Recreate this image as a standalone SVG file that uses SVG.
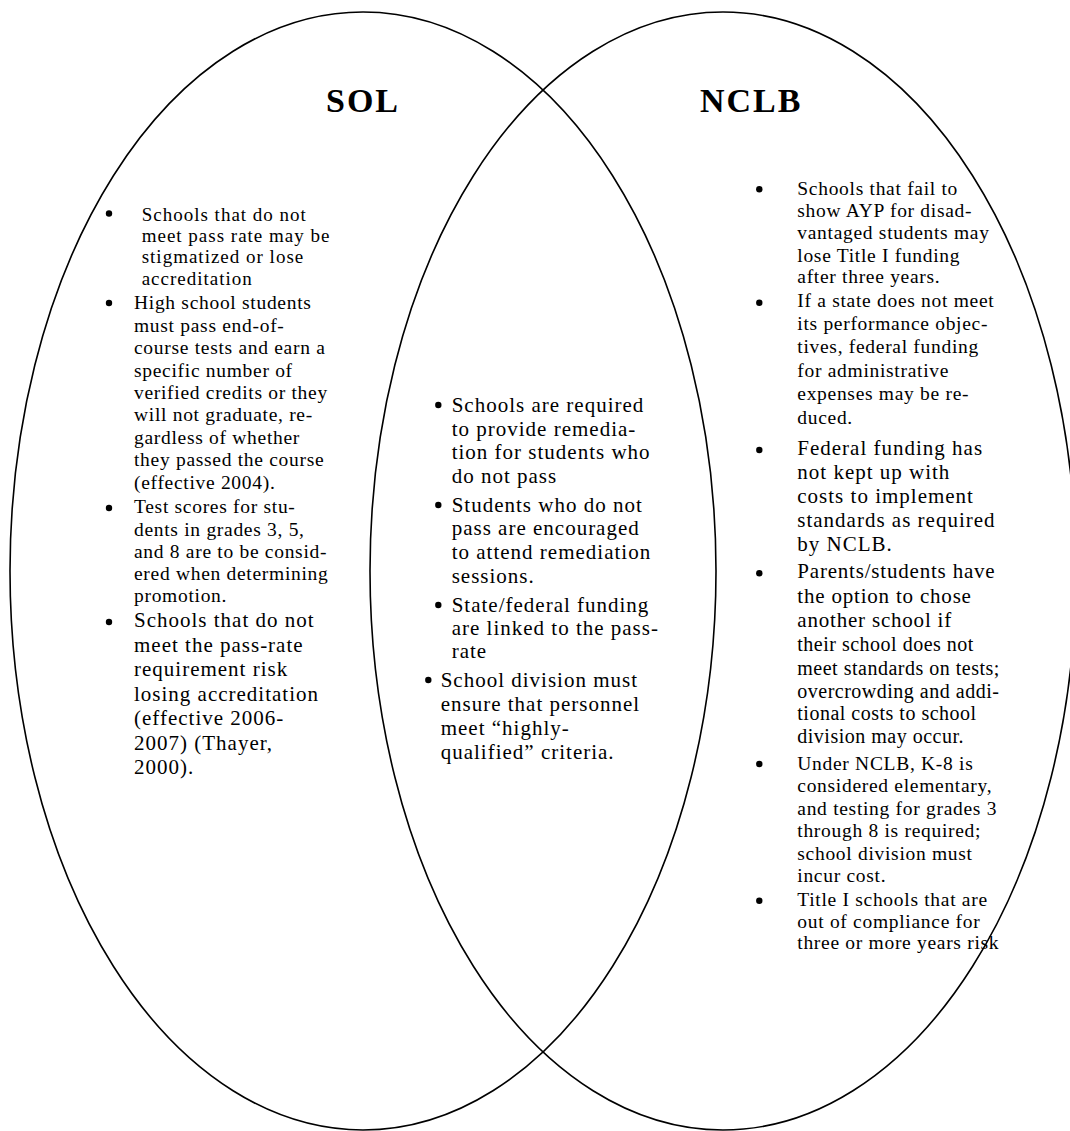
<svg xmlns="http://www.w3.org/2000/svg" width="1070" height="1131" viewBox="0 0 1070 1131">
<style>
.set{fill:none;stroke:#000;stroke-width:1.6}
.title{font-family:"Liberation Serif","Times New Roman",serif;font-weight:bold;font-size:34px;letter-spacing:2px;fill:#000}
text{font-family:"Liberation Serif","Times New Roman",serif;fill:#000}
.s19{font-size:19px;letter-spacing:1px}
.s195{font-size:19.5px;letter-spacing:0.7px}
.s20{font-size:20px;letter-spacing:0.5px}
.s21{font-size:21px;letter-spacing:1px}
.s21b{font-size:21px;letter-spacing:0.8px}
.dot{fill:#000}
</style>
<rect width="1070" height="1131" fill="#fff"/>
<g id="set-sol">
<ellipse class="set" cx="363" cy="571" rx="353" ry="559"/>
<text class="title" x="326" y="112">SOL</text>
</g>
<g id="set-nclb">
<ellipse class="set" cx="723" cy="571" rx="353" ry="559"/>
<text class="title" x="700" y="112">NCLB</text>
</g>
<g id="connectors"></g>
<g id="sol-items">
<g id="sol-1">
<circle class="dot" cx="109" cy="213.5" r="3.2"/>
<text class="s19" x="141.7" y="220.7">Schools that do not</text>
<text class="s19" x="141.7" y="241.7">meet pass rate may be</text>
<text class="s19" x="141.7" y="263.3">stigmatized or lose</text>
<text class="s19" x="141.7" y="285">accreditation</text>
</g>
<g id="sol-2">
<circle class="dot" cx="109" cy="303" r="3.2"/>
<text class="s195" x="134" y="309.3">High school students</text>
<text class="s195" x="134" y="331.7">must pass end-of-</text>
<text class="s195" x="134" y="354.1">course tests and earn a</text>
<text class="s195" x="134" y="376.5">specific number of</text>
<text class="s195" x="134" y="398.9">verified credits or they</text>
<text class="s195" x="134" y="421.3">will not graduate, re-</text>
<text class="s195" x="134" y="443.7">gardless of whether</text>
<text class="s195" x="134" y="466.1">they passed the course</text>
<text class="s195" x="134" y="488.5">(effective 2004).</text>
</g>
<g id="sol-3">
<circle class="dot" cx="109" cy="508" r="3.2"/>
<text class="s195" x="134" y="513.3">Test scores for stu-</text>
<text class="s195" x="134" y="535.5">dents in grades 3, 5,</text>
<text class="s195" x="134" y="557.7">and 8 are to be consid-</text>
<text class="s195" x="134" y="579.9">ered when determining</text>
<text class="s195" x="134" y="602.1">promotion.</text>
</g>
<g id="sol-4">
<circle class="dot" cx="109" cy="622" r="3.2"/>
<text class="s21" x="134" y="627">Schools that do not</text>
<text class="s21" x="134" y="651.5">meet the pass-rate</text>
<text class="s21" x="134" y="676">requirement risk</text>
<text class="s21" x="134" y="700.5">losing accreditation</text>
<text class="s21" x="134" y="725">(effective 2006-</text>
<text class="s21" x="134" y="749.5">2007) (Thayer,</text>
<text class="s21" x="134" y="774">2000).</text>
</g>
</g>
<g id="both-items">
<g id="both-1">
<circle class="dot" cx="438.3" cy="405" r="3.2"/>
<text class="s21" x="451.7" y="411.7">Schools are required</text>
<text class="s21" x="451.7" y="435.5">to provide remedia-</text>
<text class="s21" x="451.7" y="459.3">tion for students who</text>
<text class="s21" x="451.7" y="483.1">do not pass</text>
</g>
<g id="both-2">
<circle class="dot" cx="438.3" cy="505" r="3.2"/>
<text class="s21" x="451.7" y="511.7">Students who do not</text>
<text class="s21" x="451.7" y="535.3">pass are encouraged</text>
<text class="s21" x="451.7" y="559">to attend remediation</text>
<text class="s21" x="451.7" y="582.7">sessions.</text>
</g>
<g id="both-3">
<circle class="dot" cx="438.3" cy="605" r="3.2"/>
<text class="s21" x="451.7" y="611.7">State/federal funding</text>
<text class="s21" x="451.7" y="635">are linked to the pass-</text>
<text class="s21" x="451.7" y="658.3">rate</text>
</g>
<g id="both-4">
<circle class="dot" cx="428.3" cy="680" r="3.2"/>
<text class="s21" x="440.7" y="686.7">School division must</text>
<text class="s21" x="440.7" y="710.7">ensure that personnel</text>
<text class="s21" x="440.7" y="734.7">meet “highly-</text>
<text class="s21" x="440.7" y="758.5">qualified” criteria.</text>
</g>
</g>
<g id="nclb-items">
<g id="nclb-1">
<circle class="dot" cx="759.3" cy="189.3" r="3.2"/>
<text class="s195" x="797.3" y="195">Schools that fail to</text>
<text class="s195" x="797.3" y="217">show AYP for disad-</text>
<text class="s195" x="797.3" y="239.3">vantaged students may</text>
<text class="s195" x="797.3" y="261.7">lose Title I funding</text>
<text class="s195" x="797.3" y="283.3">after three years.</text>
</g>
<g id="nclb-2">
<circle class="dot" cx="759.3" cy="302.7" r="3.2"/>
<text class="s195" x="797.3" y="307.3">If a state does not meet</text>
<text class="s195" x="797.3" y="330">its performance objec-</text>
<text class="s195" x="797.3" y="353.3">tives, federal funding</text>
<text class="s195" x="797.3" y="376.7">for administrative</text>
<text class="s195" x="797.3" y="400">expenses may be re-</text>
<text class="s195" x="797.3" y="423.5">duced.</text>
</g>
<g id="nclb-3">
<circle class="dot" cx="759.3" cy="450" r="3.2"/>
<text class="s21" x="797.3" y="455">Federal funding has</text>
<text class="s21" x="797.3" y="478.5">not kept up with</text>
<text class="s21" x="797.3" y="502.5">costs to implement</text>
<text class="s21" x="797.3" y="526.7">standards as required</text>
<text class="s21" x="797.3" y="550.5">by NCLB.</text>
</g>
<g id="nclb-4">
<circle class="dot" cx="759.3" cy="573.3" r="3.2"/>
<text class="s21b" x="797.3" y="578.3">Parents/students have</text>
<text class="s21b" x="797.3" y="602.5">the option to chose</text>
<text class="s21b" x="797.3" y="626.7">another school if</text>
<text class="s20" x="797.3" y="651">their school does not</text>
<text class="s20" x="797.3" y="674.5">meet standards on tests;</text>
<text class="s20" x="797.3" y="697.5">overcrowding and addi-</text>
<text class="s20" x="797.3" y="720">tional costs to school</text>
<text class="s20" x="797.3" y="743">division may occur.</text>
</g>
<g id="nclb-5">
<circle class="dot" cx="759.3" cy="764" r="3.2"/>
<text class="s195" x="797.3" y="770">Under NCLB, K-8 is</text>
<text class="s195" x="797.3" y="792">considered elementary,</text>
<text class="s195" x="797.3" y="814.5">and testing for grades 3</text>
<text class="s195" x="797.3" y="837">through 8 is required;</text>
<text class="s195" x="797.3" y="859.5">school division must</text>
<text class="s195" x="797.3" y="881.7">incur cost.</text>
</g>
<g id="nclb-6">
<circle class="dot" cx="759.3" cy="900.7" r="3.2"/>
<text class="s195" x="797.3" y="906">Title I schools that are</text>
<text class="s195" x="797.3" y="927.5">out of compliance for</text>
<text class="s195" x="797.3" y="949">three or more years risk</text>
</g>
</g>
</svg>
